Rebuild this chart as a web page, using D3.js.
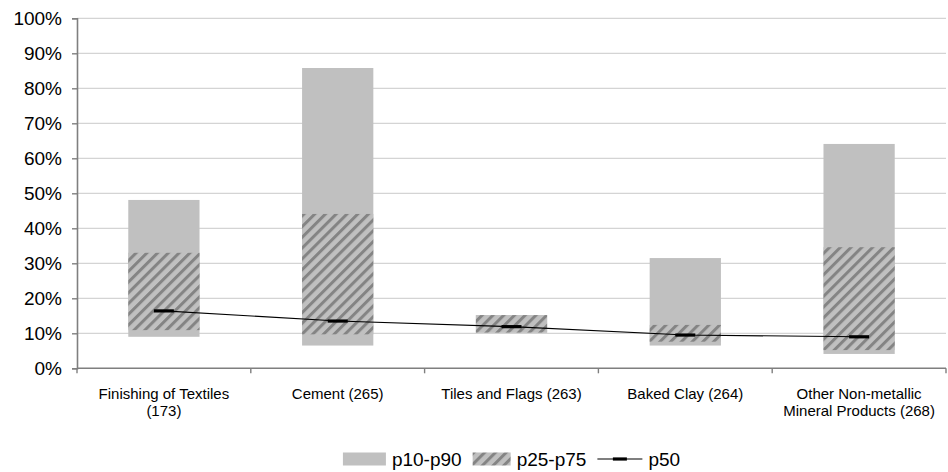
<!DOCTYPE html>
<html>
<head>
<meta charset="utf-8">
<script src="https://cdn.jsdelivr.net/npm/d3@7"></script>
<style>
  html, body { margin: 0; padding: 0; background: #fff; }
  svg { display: block; font-family: "Liberation Sans", Arial, sans-serif; }
</style>
</head>
<body>
<svg id="chart" width="948" height="472"></svg>
<script>
// ---- data ----
const categories = ["Finishing of Textiles (173)", "Cement (265)", "Tiles and Flags (263)", "Baked Clay (264)", "Other Non-metallic Mineral Products (268)"];
const categoryLines = [["Finishing of Textiles", "(173)"], ["Cement (265)"], ["Tiles and Flags (263)"], ["Baked Clay (264)"], ["Other Non-metallic", "Mineral Products (268)"]];
const p10 = [0.090, 0.065, 0.102, 0.065, 0.041];
const p25 = [0.109, 0.097, 0.102, 0.076, 0.052];
const p50 = [0.164, 0.135, 0.119, 0.095, 0.090];
const p75 = [0.330, 0.441, 0.152, 0.124, 0.346];
const p90 = [0.481, 0.858, 0.152, 0.315, 0.641];
const yTicks = [0, 0.1, 0.2, 0.3, 0.4, 0.5, 0.6, 0.7, 0.8, 0.9, 1.0];
const legendLabels = ["p10-p90", "p25-p75", "p50"];

// ---- layout ----
const svg = d3.select("#chart");
const mLeft = 77, mRight = 946, mTop = 18.3, mBottom = 368.3;

const x = d3.scaleBand().domain(categories).range([mLeft, mRight]).padding(0);
const y = d3.scaleLinear().domain([0, 1]).range([mBottom, mTop]);
const barW = x.bandwidth() * 0.41;

// pattern
const defs = svg.append("defs");
const P = 7.6;
const pat = defs.append("pattern")
  .attr("id", "hatch")
  .attr("patternUnits", "userSpaceOnUse")
  .attr("width", P).attr("height", P)
  .attr("patternTransform", "rotate(45)");
pat.append("rect").attr("width", P).attr("height", P).attr("fill", "#c0c0c0");
pat.append("rect").attr("x", 0).attr("y", 0).attr("width", 3.0).attr("height", P).attr("fill", "#848484");

// gridlines
svg.append("g").selectAll("line")
  .data(yTicks.filter(d => d > 0))
  .join("line")
  .attr("x1", mLeft).attr("x2", mRight)
  .attr("y1", d => y(d)).attr("y2", d => y(d))
  .attr("stroke", "#d4d4d4").attr("stroke-width", 1.3);

const data = categories.map((c, i) => ({ c, p10: p10[i], p25: p25[i], p50: p50[i], p75: p75[i], p90: p90[i] }));

// p10-p90 bars
svg.append("g").selectAll("rect")
  .data(data).join("rect")
  .attr("x", d => x(d.c) + (x.bandwidth() - barW) / 2)
  .attr("width", barW)
  .attr("y", d => y(d.p90))
  .attr("height", d => y(d.p10) - y(d.p90))
  .attr("fill", "#c0c0c0");

// p25-p75 bars
svg.append("g").selectAll("rect")
  .data(data).join("rect")
  .attr("x", d => x(d.c) + (x.bandwidth() - barW) / 2)
  .attr("width", barW)
  .attr("y", d => y(d.p75))
  .attr("height", d => y(d.p25) - y(d.p75))
  .attr("fill", "url(#hatch)");

// p50 line
const cx = d => x(d.c) + x.bandwidth() / 2;
svg.append("path")
  .datum(data)
  .attr("fill", "none")
  .attr("stroke", "#000")
  .attr("stroke-width", 1.1)
  .attr("d", d3.line().x(cx).y(d => y(d.p50)));

svg.append("g").selectAll("rect")
  .data(data).join("rect")
  .attr("x", d => cx(d) - 10)
  .attr("width", 20)
  .attr("y", d => y(d.p50) - 1.6)
  .attr("height", 3.2)
  .attr("fill", "#000");

// y axis
const yAxis = d3.axisLeft(y).tickValues(yTicks).tickFormat(d3.format(".0%")).tickSize(5).tickPadding(10);
const gy = svg.append("g").attr("transform", `translate(${mLeft},0)`).call(yAxis);
gy.select(".domain").attr("stroke", "#7f7f7f").attr("stroke-width", 1.6);
gy.selectAll(".tick line").attr("stroke", "#7f7f7f").attr("stroke-width", 1.4);
gy.selectAll(".tick text").attr("font-size", 19).attr("fill", "#000")
  .attr("font-family", "'Liberation Sans', Arial, sans-serif");

// x axis
const gx = svg.append("g").attr("transform", `translate(0,${mBottom})`);
gx.append("line").attr("x1", mLeft).attr("x2", mRight).attr("y1", 0).attr("y2", 0)
  .attr("stroke", "#7f7f7f").attr("stroke-width", 1.6);
const boundaries = categories.map(c => x(c)).concat([x(categories[categories.length - 1]) + x.bandwidth()]);
gx.selectAll("line.tk").data(boundaries).join("line").attr("class", "tk")
  .attr("x1", d => d).attr("x2", d => d).attr("y1", 0).attr("y2", 5)
  .attr("stroke", "#7f7f7f").attr("stroke-width", 1.4);

const lbl = svg.append("g").attr("font-size", 15).attr("fill", "#000").attr("text-anchor", "middle");
categories.forEach((c, i) => {
  const t = lbl.append("text").attr("x", x(c) + x.bandwidth() / 2).attr("y", 399);
  categoryLines[i].forEach((ln, j) => {
    t.append("tspan").attr("x", x(c) + x.bandwidth() / 2).attr("dy", j === 0 ? 0 : 16.5).text(ln);
  });
});

// legend
const lg = svg.append("g").attr("font-size", 19).attr("fill", "#000");
const swW = [43, 38, 45];
const gapText = 6, gapItem = 11;
const items = legendLabels.map((l, i) => {
  const g = lg.append("g");
  const t = g.append("text").attr("y", 466).text(l);
  return { g, t, w: t.node().getComputedTextLength(), sw: swW[i] };
});
const total = d3.sum(items, it => it.sw + gapText + it.w) + gapItem * (items.length - 1);
let cur = (mLeft + mRight) / 2 - total / 2;
items.forEach((it, i) => {
  if (i === 0) {
    it.g.insert("rect", "text").attr("x", cur).attr("y", 452.5).attr("width", it.sw).attr("height", 13).attr("fill", "#c0c0c0");
  } else if (i === 1) {
    it.g.insert("rect", "text").attr("x", cur).attr("y", 452.5).attr("width", it.sw).attr("height", 13).attr("fill", "url(#hatch)");
  } else {
    it.g.insert("line", "text").attr("x1", cur).attr("x2", cur + it.sw).attr("y1", 459).attr("y2", 459)
      .attr("stroke", "#000").attr("stroke-width", 1.2);
    it.g.insert("rect", "text").attr("x", cur + it.sw / 2 - 7).attr("y", 457.4).attr("width", 14).attr("height", 3.2).attr("fill", "#000");
  }
  it.t.attr("x", cur + it.sw + gapText);
  cur += it.sw + gapText + it.w + gapItem;
});
</script>
</body>
</html>
